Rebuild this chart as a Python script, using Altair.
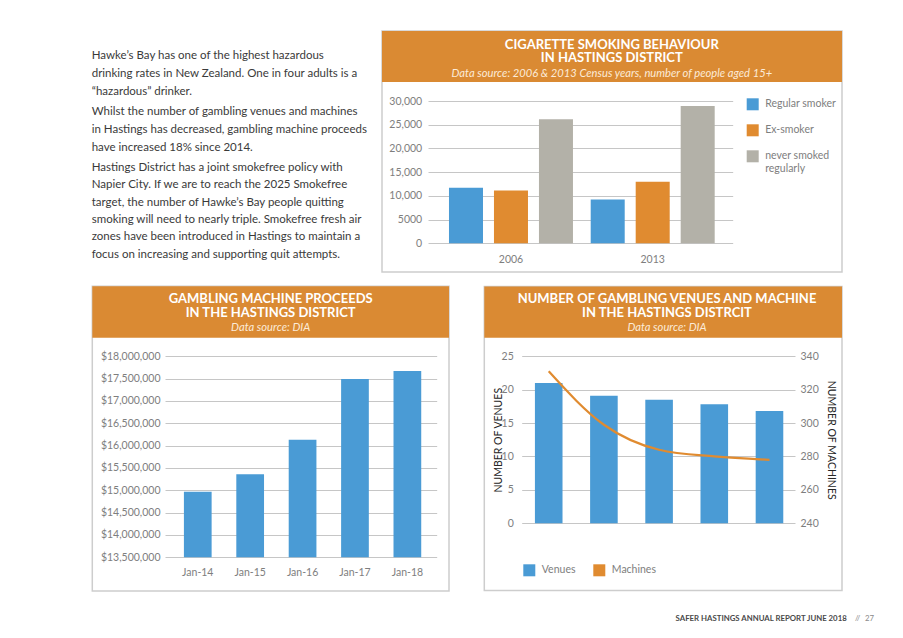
import altair as alt
import pandas as pd

# ------------------------------------------------------------------ data
smoke_years = ["2006", "2013"]
smoke_categories = ["Regular smoker", "Ex-smoker", "never smoked regularly"]
smoke_regular = [11700, 9250]
smoke_ex = [11150, 13000]
smoke_never = [26150, 28950]
smoke_ticks = [0, 5000, 10000, 15000, 20000, 25000, 30000]

proceeds_months = ["Jan-14", "Jan-15", "Jan-16", "Jan-17", "Jan-18"]
proceeds_values = [14970000, 15360000, 16130000, 17490000, 17670000]
proceeds_ticks = [13500000, 14000000, 14500000, 15000000, 15500000,
                  16000000, 16500000, 17000000, 17500000, 18000000]

venue_months = ["Jan-14", "Jan-15", "Jan-16", "Jan-17", "Jan-18"]
venue_counts = [21.0, 19.1, 18.5, 17.8, 16.8]
machine_counts = [331, 299, 284, 280, 278]
venue_ticks = [0, 5, 10, 15, 20, 25]
machine_ticks = [240, 260, 280, 300, 320, 340]
venue_series = ["Venues", "Machines"]

para1 = ["Hawke\u2019s Bay has one of the highest hazardous",
         "drinking rates in New Zealand. One in four adults is a",
         "\u201chazardous\u201d drinker."]
para2 = ["Whilst the number of gambling venues and machines",
         "in Hastings has decreased, gambling machine proceeds",
         "have increased 18% since 2014."]
para3 = ["Hastings District has a joint smokefree policy with",
         "Napier City. If we are to reach the 2025 Smokefree",
         "target, the number of Hawke\u2019s Bay people quitting",
         "smoking will need to nearly triple. Smokefree fresh air",
         "zones have been introduced in Hastings to maintain a",
         "focus on increasing and supporting quit attempts."]

smoke_title = ["CIGARETTE SMOKING BEHAVIOUR", "IN HASTINGS DISTRICT"]
smoke_sub = "Data source: 2006 & 2013 Census years, number of people aged 15+"
proc_title = ["GAMBLING MACHINE PROCEEDS", "IN THE HASTINGS DISTRICT"]
venue_title = ["NUMBER OF GAMBLING VENUES AND MACHINE", "IN THE HASTINGS DISTRCIT"]
dia_sub = "Data source: DIA"
footer_main = "SAFER HASTINGS ANNUAL REPORT JUNE 2018"
footer_sep = "//"
footer_page = "27"

# ------------------------------------------------------------------ styles
FONT = "Lato"
BLUE = "#4A9BD5"
ORANGE = "#E08B30"
GREY = "#B3B1A8"
HEADER = "#DA8A33"
BORDER = "#CDCDCD"
LABEL = "#7E7E7E"
BODY = "#3A3A3A"
W, H = 887, 616


def px(v):
    """page pixel -> canvas pixel (page has an 8px margin)"""
    return v - 8


ONE = pd.DataFrame({"row": [0]})


def text_layer(lines, x, y, size, color, weight="normal", style="normal",
               align="left", line_height=None):
    kw = dict(font=FONT, fontSize=size, fontWeight=weight, fontStyle=style,
              color=color, align=align, baseline="alphabetic")
    if line_height is not None:
        kw["lineHeight"] = line_height
    return alt.Chart(ONE).mark_text(**kw).encode(
        x=alt.value(x), y=alt.value(y), text=alt.value(lines))


def frame(x0, x1, y0, y1):
    return alt.Chart(ONE).mark_rect(filled=False, stroke=BORDER, strokeWidth=1.5).encode(
        x=alt.value(px(x0)), x2=alt.value(px(x1)), y=alt.value(px(y0)), y2=alt.value(px(y1)))


def header(x0, x1, y0, y1):
    return alt.Chart(ONE).mark_rect(color=HEADER).encode(
        x=alt.value(px(x0)), x2=alt.value(px(x1)), y=alt.value(px(y0)), y2=alt.value(px(y1)))


# ------------------------------------------------------------------ smoking chart
smoke_rows = []
for cat, vals in zip(smoke_categories, [smoke_regular, smoke_ex, smoke_never]):
    for yr, v in zip(smoke_years, vals):
        smoke_rows.append({"year": yr, "category": cat, "people": v})
smoke_df = pd.DataFrame(smoke_rows)

smoke = alt.Chart(smoke_df).mark_bar().encode(
    x=alt.X("year:N", sort=smoke_years, title=None,
            scale=alt.Scale(range=[px(428), px(732.7)], paddingInner=0,
                            paddingOuter=0.075, align=0.57),
            axis=alt.Axis(orient="bottom", offset=px(259.3) - H, labelAngle=0,
                          labelBaseline="middle", grid=False)),
    xOffset=alt.XOffset("category:N", sort=smoke_categories,
                        scale=alt.Scale(paddingInner=0.244, paddingOuter=0.197)),
    y=alt.Y("people:Q", title=None,
            scale=alt.Scale(domain=[0, 30000], range=[px(243.3), px(101)], nice=False),
            axis=alt.Axis(orient="left", offset=-px(421.7), values=smoke_ticks, grid=True,
                          labelExpr="datum.value >= 10000 ? format(datum.value, ',') : format(datum.value, 'd')")),
    color=alt.Color("category:N", sort=smoke_categories, title=None,
                    scale=alt.Scale(domain=smoke_categories, range=[BLUE, ORANGE, GREY]),
                    legend=alt.Legend(orient="none", legendX=px(746.7), legendY=px(98.3),
                                      direction="vertical", symbolType="square",
                                      symbolSize=144, symbolStrokeWidth=0, rowPadding=14,
                                      labelOffset=6.5, padding=0,
                                      labelExpr="datum.label == 'never smoked regularly' ? ['never smoked', 'regularly'] : datum.label")),
)

# ------------------------------------------------------------------ proceeds chart
proc_df = pd.DataFrame({"month": proceeds_months, "proceeds": proceeds_values})
proc = alt.Chart(proc_df).mark_bar(color=BLUE).encode(
    x=alt.X("month:N", sort=proceeds_months, title=None,
            scale=alt.Scale(range=[px(165), px(436.7)], paddingInner=0.471,
                            paddingOuter=0.328, align=0.55),
            axis=alt.Axis(orient="bottom", offset=px(572.3) - H, labelAngle=0,
                          labelBaseline="middle", grid=False)),
    y=alt.Y("proceeds:Q", title=None,
            scale=alt.Scale(domain=[13500000, 18000000], range=[px(557.3), px(356.3)],
                            zero=False, nice=False),
            axis=alt.Axis(orient="left", offset=-px(160), values=proceeds_ticks,
                          format="$,.0f", grid=True)),
    y2=alt.datum(13500000),
)

# ------------------------------------------------------------------ venues / machines chart
venue_color = alt.Scale(domain=venue_series, range=[BLUE, ORANGE])
ven_df = pd.DataFrame({"month": venue_months, "count": venue_counts,
                       "series": [venue_series[0]] * len(venue_months)})
mach_df = pd.DataFrame({"month": venue_months, "count": machine_counts,
                        "series": [venue_series[1]] * len(venue_months)})

ven_bars = alt.Chart(ven_df).mark_bar().encode(
    x=alt.X("month:N", sort=venue_months, title=None,
            scale=alt.Scale(range=[px(521.7), px(795)], paddingInner=0.5,
                            paddingOuter=0.226, align=0.53),
            axis=alt.Axis(orient="bottom", offset=px(541) - H, labelAngle=0,
                          labelBaseline="middle", grid=False)),
    y=alt.Y("count:Q", title="NUMBER OF VENUES",
            scale=alt.Scale(domain=[0, 25], range=[px(523.2), px(356.3)], nice=False),
            axis=alt.Axis(orient="left", offset=-px(513.3), values=venue_ticks, grid=True,
                          titleAngle=270, titleX=-15, titleBaseline="middle")),
    color=alt.Color("series:N", title=None, scale=venue_color,
                    legend=alt.Legend(orient="none", legendX=px(523.3), legendY=px(564.3),
                                      direction="horizontal", columns=2,
                                      symbolType="square", symbolSize=144,
                                      symbolStrokeWidth=0, labelOffset=6.5,
                                      columnPadding=17, padding=0)),
)
mach_line = alt.Chart(mach_df).mark_line(interpolate="monotone", strokeWidth=2.2).encode(
    x=alt.X("month:N", sort=venue_months, axis=None),
    y=alt.Y("count:Q", title="NUMBER OF MACHINES",
            scale=alt.Scale(domain=[240, 340], range=[px(523.2), px(356.3)],
                            zero=False, nice=False),
            axis=alt.Axis(orient="right", offset=px(800) - W, values=machine_ticks,
                          grid=False, labelAlign="left", titleAngle=90, titleX=30,
                          titleBaseline="middle")),
    color=alt.Color("series:N", scale=venue_color, legend=None),
)
venues = alt.layer(ven_bars, mach_line).resolve_scale(y="independent")

# ------------------------------------------------------------------ page furniture
layers = [
    frame(382, 842, 31, 272), header(382, 842, 31, 82),
    frame(92.3, 449, 286.3, 591), header(92.3, 449, 286.3, 337.7),
    frame(484.3, 842, 286.5, 590.5), header(484.3, 842, 286.5, 337.7),
    text_layer(para1, px(91.7), px(59.3), 11.5, BODY, line_height=17.7),
    text_layer(para2, px(91.7), px(115.3), 11.5, BODY, line_height=17.7),
    text_layer(para3, px(91.7), px(171.0), 11.5, BODY, line_height=17.3),
    text_layer(smoke_title, px(611.8), px(48.6), 13, "white", weight="bold",
               align="center", line_height=13.3),
    text_layer(smoke_sub, px(611.8), px(77.0), 11.2, "#FCEBD8", style="italic", align="center"),
    text_layer(proc_title, px(270.7), px(303.0), 13, "white", weight="bold",
               align="center", line_height=13.8),
    text_layer(dia_sub, px(270.7), px(331.3), 11.2, "#FCEBD8", style="italic", align="center"),
    text_layer(venue_title, px(667), px(303.0), 13, "white", weight="bold",
               align="center", line_height=13.5),
    text_layer(dia_sub, px(667), px(331.3), 11.2, "#FCEBD8", style="italic", align="center"),
    text_layer(footer_main, px(846.7), px(621.3), 7.8, "#4A4A4A", weight="bold", align="right"),
    text_layer(footer_sep, px(855), px(621.3), 7.8, "#8A8A8A", align="left"),
    text_layer(footer_page, px(865), px(621.3), 7.8, "#8A8A8A", align="left"),
    smoke,
    proc,
    venues,
]

chart = (
    alt.layer(*layers)
    .resolve_scale(x="independent", y="independent", color="independent")
    .resolve_axis(x="independent", y="independent")
    .resolve_legend(color="independent")
    .properties(width=W, height=H, autosize=alt.AutoSizeParams(type="none"), padding=0)
    .configure_view(stroke=None)
    .configure_axis(labelFont=FONT, labelFontSize=10.5, labelColor=LABEL, domain=False,
                    ticks=False, tickSize=0, labelPadding=0, gridColor="#C6C6C6",
                    gridWidth=1, titleFont=FONT, titleFontSize=10.5, titleColor="#262626",
                    titleFontWeight="normal")
    .configure_legend(labelFont=FONT, labelFontSize=10.5, labelColor=LABEL)
)

chart.save("out.html", embed_options={"renderer": "svg", "actions": False})
